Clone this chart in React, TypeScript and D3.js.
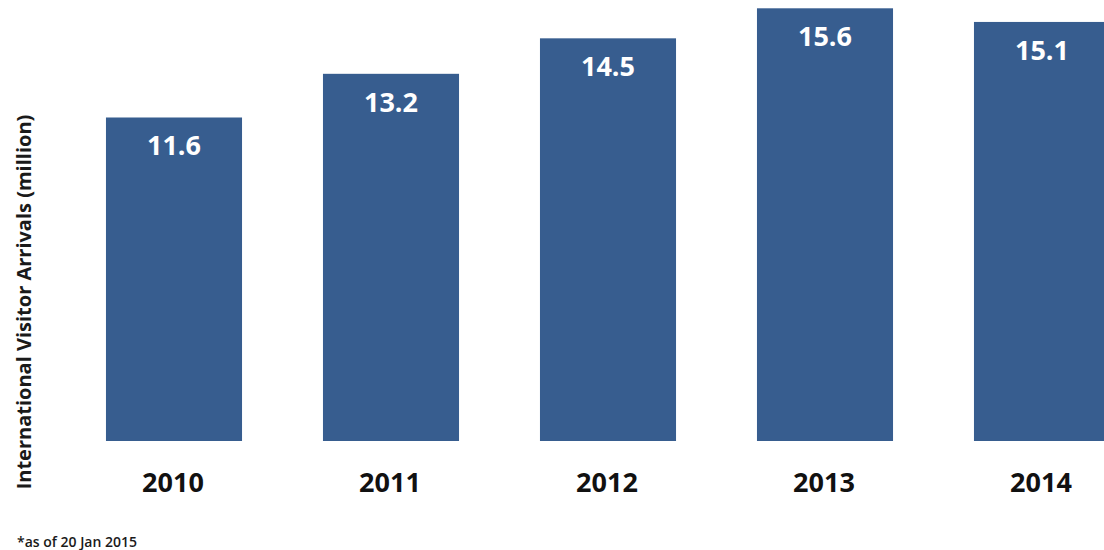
import React from "react";
import * as d3 from "d3";

const years = ["2010", "2011", "2012", "2013", "2014"];
const arrivals = [11.6, 13.2, 14.5, 15.6, 15.1];
const valueLabels = ["11.6", "13.2", "14.5", "15.6", "15.1"];
const axisTitle = "International Visitor Arrivals (million)";
const footnote = "*as of 20 Jan 2015";

const W = 1104;
const H = 550;
const FONT = "'Open Sans', 'Noto Sans', sans-serif";

export default function App() {
  const x = d3
    .scaleBand<string>()
    .domain(years)
    .range([65.5, 1150.5])
    .paddingInner(0.373)
    .paddingOuter(0.1865);
  const y = d3.scaleLinear().domain([-0.25, 16]).range([441, 441 - 16.25 * 27.3]);
  const base = y(-0.25);

  return (
    <svg
      width={W}
      height={H}
      style={{ position: "absolute", left: 0, top: 0, background: "#fff" }}
      fontFamily={FONT}
    >
      <rect x={0} y={0} width={W} height={H} fill="#fff" />
      <g>
        {years.map((yr, i) => {
          const x0 = x(yr)!;
          const bw = x.bandwidth();
          const top = y(arrivals[i]);
          return (
            <g key={yr}>
              <rect x={x0} y={top} width={bw} height={base - top} fill="#375D8F" />
              <text
                x={x0 + bw / 2}
                y={top + 38}
                textAnchor="middle"
                fill="#fff"
                fontSize={27}
                fontWeight={700}
              >
                {valueLabels[i]}
              </text>
              <text
                x={x0 + bw / 2 - 1}
                y={492}
                textAnchor="middle"
                fill="#111"
                fontSize={27}
                fontWeight={700}
              >
                {yr}
              </text>
            </g>
          );
        })}
      </g>
      <text
        transform={`translate(31, 302) rotate(-90)`}
        textAnchor="middle"
        fill="#1a1a1a"
        fontSize={20}
        fontWeight={700}
      >
        {axisTitle}
      </text>
      <text x={17} y={547} fill="#1a1a1a" fontSize={14} fontWeight={600}>
        {footnote}
      </text>
    </svg>
  );
}
